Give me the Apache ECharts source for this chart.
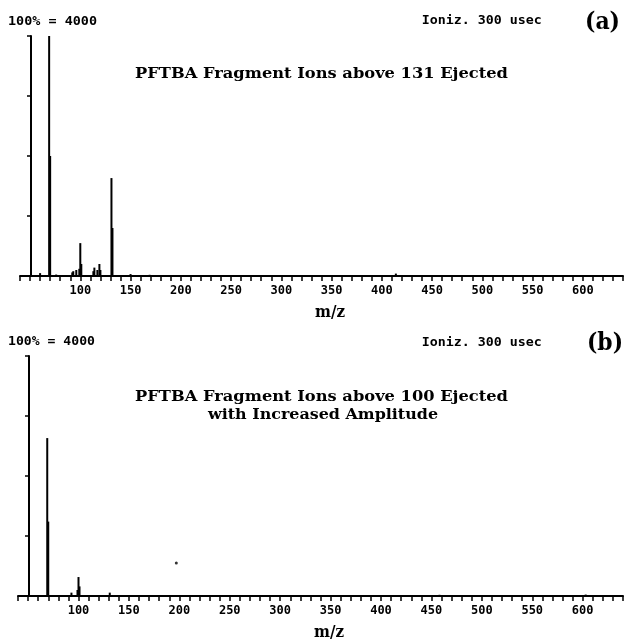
<!DOCTYPE html>
<html>
<head>
<meta charset="utf-8">
<script src="https://cdn.jsdelivr.net/npm/echarts@6/dist/echarts.min.js"></script>
<style>
html,body{margin:0;padding:0;background:#fff;}
#chart{width:626px;height:639px;}
</style>
</head>
<body>
<div id="chart"></div>
<script>
// ---- data (m/z, relative intensity %) ----
const massRange = [40, 640];
const tickLabelsMz = [100, 150, 200, 250, 300, 350, 400, 450, 500, 550, 600];
const spectrumA = [
  [60, 1.2], [69, 100], [70, 50], [76, 0.6], [92, 1.5], [93, 2], [96, 2.5], [99, 3],
  [100, 13.7], [101, 5], [113, 2], [114, 3.5], [117, 2.5], [119, 5], [120, 2.5],
  [131, 40.8], [132, 20], [150, 0.8], [169, 0.5], [414, 1]
];
const spectrumB = [
  [69, 65.8], [70, 31], [93, 1.4], [99, 2.5], [100, 7.9], [101, 4], [131, 1.4],
  [458, 0.5], [603, 0.6]
];
const strayPointB = [[197, 13.75]];
const headerLeft = "100% = 4000";
const headerRight = "Ioniz. 300 usec";
const titleA = ["PFTBA Fragment Ions above 131 Ejected"];
const titleB = ["PFTBA Fragment Ions above 100 Ejected", "with Increased Amplitude"];
const panelTags = ["(a)", "(b)"];
const xName = "m/z";

// ---- helpers ----
const mctx = document.createElement('canvas').getContext('2d');
function txt(text, cx, cy, font, targetW) {
  mctx.font = font;
  const w = mctx.measureText(text).width;
  const s = targetW ? targetW / w : 1;
  return {
    type: 'text', x: cx, y: cy, scaleX: s, silent: true,
    style: {
      text: text, x: 0, y: 0, font: font, fill: '#000',
      textAlign: 'center', align: 'center',
      textVerticalAlign: 'middle', verticalAlign: 'middle'
    }
  };
}
const MONO = 'bold 12px "DejaVu Sans Mono"';
const SERIF = 'bold 14px "DejaVu Serif"';
const TAG = 'bold 24px "DejaVu Serif"';
const XNAME = 'bold 16px "DejaVu Serif"';

function xAxisCfg(gi) {
  return {
    gridIndex: gi, type: 'value', min: massRange[0], max: massRange[1], interval: 10,
    axisLine: { show: true, onZero: false, lineStyle: { color: '#000', width: 2 } },
    axisTick: { show: true, length: 5, lineStyle: { color: '#000', width: 1.5 } },
    axisLabel: {
      color: '#000', fontFamily: 'DejaVu Sans Mono', fontWeight: 'bold', fontSize: 12, margin: 9,
      formatter: v => tickLabelsMz.indexOf(v) >= 0 ? String(v) : ''
    },
    splitLine: { show: false }
  };
}
function yAxisCfg(gi) {
  return {
    gridIndex: gi, type: 'value', min: 0, max: 100, interval: 25, offset: -11,
    axisLine: { show: true, lineStyle: { color: '#000', width: 2 } },
    axisTick: { show: true, length: 4, lineStyle: { color: '#000', width: 1.5 } },
    axisLabel: { show: false },
    splitLine: { show: false }
  };
}

const chart = echarts.init(document.getElementById('chart'), null, { renderer: 'canvas' });
chart.setOption({
  animation: false,
  backgroundColor: '#fff',
  grid: [
    { left: 20, top: 36, width: 606, height: 240 },
    { left: 18, top: 356, width: 606, height: 240 }
  ],
  xAxis: [xAxisCfg(0), xAxisCfg(1)],
  yAxis: [yAxisCfg(0), yAxisCfg(1)],
  series: [
    { type: 'bar', xAxisIndex: 0, yAxisIndex: 0, data: spectrumA, barWidth: 2,
      itemStyle: { color: '#000' }, silent: true },
    { type: 'bar', xAxisIndex: 1, yAxisIndex: 1, data: spectrumB, barWidth: 2,
      itemStyle: { color: '#000' }, silent: true },
    { type: 'scatter', xAxisIndex: 1, yAxisIndex: 1, data: strayPointB, symbolSize: 3,
      itemStyle: { color: '#000' }, silent: true }
  ],
  graphic: [
    txt(headerLeft, 52.5, 22, MONO, 89),
    txt(headerRight, 481.7, 21, MONO, 120),
    txt(panelTags[0], 602.5, 23, TAG, 35),
    txt(titleA[0], 321.5, 74, SERIF, 373),
    txt(xName, 330, 313, XNAME, 30),
    txt(headerLeft, 51.5, 342, MONO, 87),
    txt(headerRight, 481.7, 343, MONO, 120),
    txt(panelTags[1], 605, 344, TAG, 36),
    txt(titleB[0], 321.5, 397, SERIF, 373),
    txt(titleB[1], 323, 415, SERIF, 230),
    txt(xName, 329, 633, XNAME, 30)
  ]
});
</script>
</body>
</html>
